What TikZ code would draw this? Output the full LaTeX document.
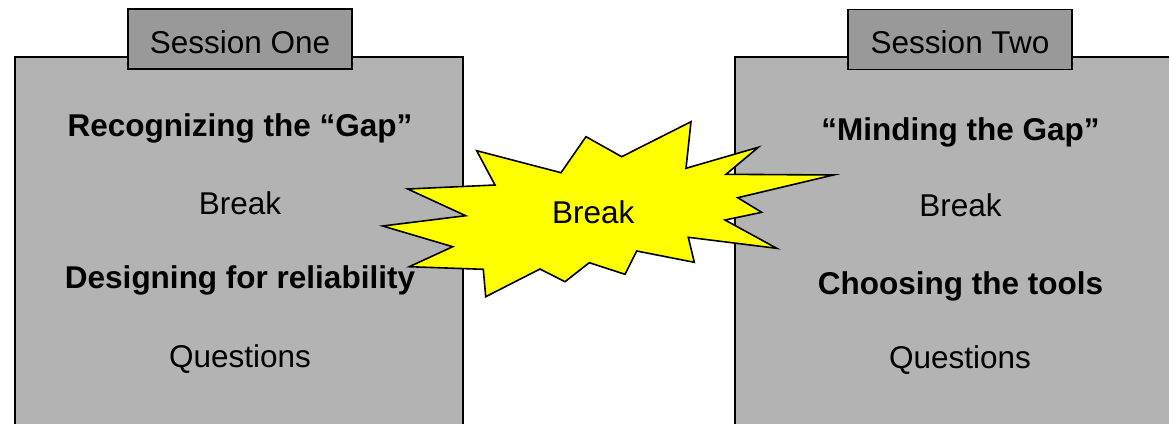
\documentclass[tikz,border=0pt]{standalone}
\usepackage{fontspec}
\setmainfont{Liberation Sans}
\definecolor{boxgray}{RGB}{179,179,179}
\definecolor{tabgray}{RGB}{153,153,153}
\definecolor{burstyellow}{RGB}{255,255,0}
\begin{document}
\begin{tikzpicture}[x=1pt,y=-1pt,
  boxstyle/.style={draw=black, fill=boxgray, line width=1.8pt, rectangle, inner sep=0pt},
  tabstyle/.style={draw=black, fill=tabgray, line width=1.6pt, rectangle, inner sep=0pt, minimum width=224pt, minimum height=60pt},
  txt/.style={anchor=base, inner sep=0pt, font=\fontsize{31.5}{36}\selectfont},
  btxt/.style={anchor=base, inner sep=0pt, font=\fontsize{31.5}{36}\selectfont\bfseries},
  burst/.style={draw=black, fill=burstyellow, line width=1.6pt, line join=miter}]
\useasboundingbox (0,0) rectangle (1169,423);
\clip (0,0) rectangle (1169,423);
% session boxes
\node[boxstyle, minimum width=448pt, minimum height=383pt] (box1) at (239,248.5) {};
\node[boxstyle, minimum width=455pt, minimum height=383pt] (box2) at (962.5,248.5) {};
% tabs
\node[tabstyle] (tab1) at (240,39) {};
\node[tabstyle] (tab2) at (960,39.5) {};
\node[txt] (tab1t) at (240,53.3) {Session One};
\node[txt] (tab2t) at (960,53.3) {Session Two};
% left texts
\node[btxt] (l1) at (240,136.7) {Recognizing the “Gap”};
\node[txt]  (l2) at (240,214) {Break};
\node[btxt] (l3) at (240,288) {Designing for reliability};
\node[txt]  (l4) at (240,367) {Questions};
% right texts
\node[btxt] (r1) at (960.5,140.7) {“Minding the Gap”};
\node[txt]  (r2) at (960.5,216.7) {Break};
\node[btxt] (r3) at (960.5,294) {Choosing the tools};
\node[txt]  (r4) at (960,368) {Questions};
% starburst
\draw[burst] (476.7,150.7) -- (561,172.7) -- (586,136.7) -- (621.7,156.7)
  -- (691,121.7) -- (686,168.3) -- (758.3,147.3) -- (726,174.3)
  -- (833.3,175) -- (737.7,197.7) -- (761.7,212.3) -- (725,220)
  -- (776.7,248.3) -- (688.3,237.3) -- (694.3,262.3) -- (636.7,251)
  -- (625,274.3) -- (589.3,262.7) -- (565,281.7) -- (540,269)
  -- (485.7,296.7) -- (483.3,269.3) -- (409.3,266.7) -- (452.7,246.7)
  -- (382.7,226) -- (465.7,215.7) -- (407.7,189) -- (495,185) -- cycle;
\node[txt] (bt) at (593.3,223.3) {Break};
\end{tikzpicture}
\end{document}
